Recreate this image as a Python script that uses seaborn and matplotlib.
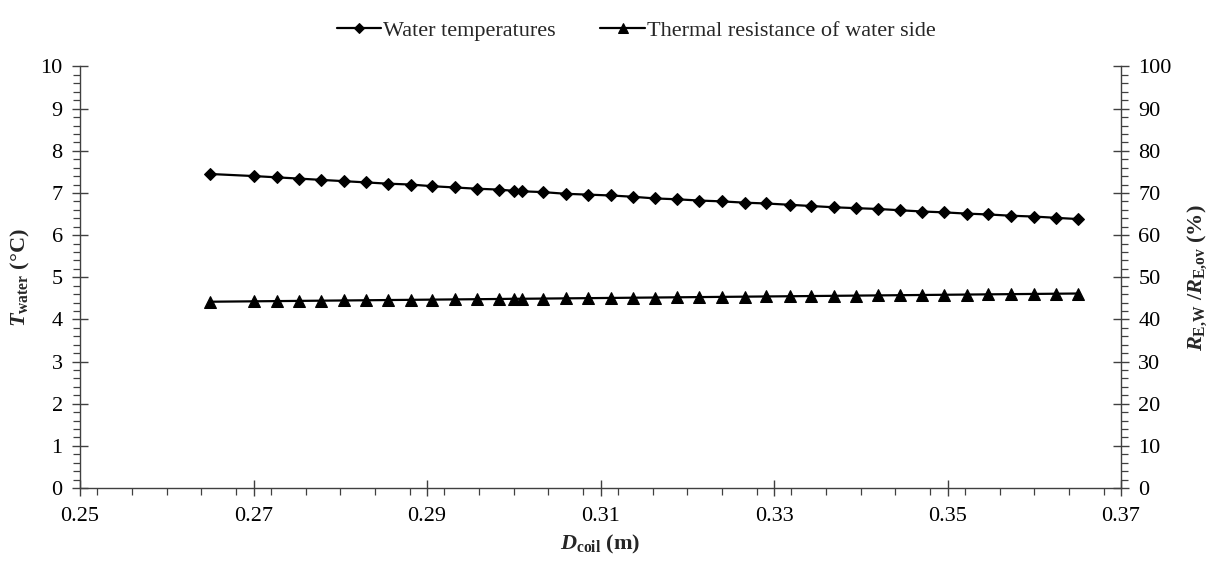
import matplotlib
matplotlib.use("Agg")
import matplotlib.pyplot as plt
import seaborn as sns
import numpy as np
from matplotlib.ticker import MultipleLocator, FormatStrFormatter

# ---- data ----
d_coil = [0.2650, 0.2701, 0.2727, 0.2753, 0.2778, 0.2804, 0.2830, 0.2855, 0.2881, 0.2906,
          0.2932, 0.2958, 0.2983, 0.3000, 0.3009, 0.3034, 0.3060, 0.3086, 0.3112, 0.3137,
          0.3163, 0.3188, 0.3214, 0.3240, 0.3266, 0.3291, 0.3318, 0.3343, 0.3369, 0.3394,
          0.3420, 0.3445, 0.3471, 0.3496, 0.3522, 0.3547, 0.3573, 0.3600, 0.3625, 0.3651]
t_water = [7.45, 7.40, 7.37, 7.34, 7.31, 7.28, 7.25, 7.22, 7.20, 7.16,
           7.13, 7.10, 7.08, 7.05, 7.04, 7.02, 6.98, 6.96, 6.94, 6.91,
           6.87, 6.85, 6.82, 6.80, 6.77, 6.75, 6.72, 6.69, 6.66, 6.64,
           6.62, 6.59, 6.56, 6.54, 6.51, 6.49, 6.46, 6.44, 6.41, 6.38]
r_ratio = [44.2, 44.3, 44.35, 44.4, 44.45, 44.5, 44.55, 44.6, 44.65, 44.7,
           44.75, 44.8, 44.85, 44.9, 44.9, 44.95, 45.0, 45.05, 45.1, 45.15,
           45.2, 45.25, 45.3, 45.35, 45.4, 45.45, 45.5, 45.55, 45.6, 45.65,
           45.7, 45.75, 45.8, 45.85, 45.9, 45.95, 46.0, 46.05, 46.1, 46.15]
series_names = ["Water temperatures", "Thermal resistance of water side"]
x_ticks = [0.25, 0.27, 0.29, 0.31, 0.33, 0.35, 0.37]

sns.set_theme(style="white")
plt.rcParams['font.family'] = ['Liberation Serif', 'DejaVu Serif']
plt.rcParams['mathtext.fontset'] = 'custom'
plt.rcParams['mathtext.rm'] = 'Liberation Serif:bold'
plt.rcParams['mathtext.it'] = 'Liberation Serif:italic:bold'
plt.rcParams['mathtext.bf'] = 'Liberation Serif:bold'

FS = 16
axis_col = '#404040'
fig = plt.figure(figsize=(12.14, 5.61), dpi=100)
ax = fig.add_axes([0.0659, 0.130, 0.8575, 0.7515])
ax2 = ax.twinx()

sns.lineplot(x=d_coil, y=t_water, ax=ax, color='black', marker='D', markersize=6,
             markeredgecolor='black', linewidth=1.6, label=series_names[0], legend=False)
sns.lineplot(x=d_coil, y=r_ratio, ax=ax2, color='black', marker='^', markersize=9,
             markeredgecolor='black', linewidth=1.6, label=series_names[1], legend=False)

ax.set_xlim(0.25, 0.37)
ax.set_ylim(0, 10)
ax2.set_ylim(0, 100)
ax.set_xticks(x_ticks)
ax.xaxis.set_major_formatter(FormatStrFormatter('%.2f'))
ax.xaxis.set_minor_locator(MultipleLocator(0.004))
ax.yaxis.set_major_locator(MultipleLocator(1))
ax.yaxis.set_minor_locator(MultipleLocator(0.2))
ax2.yaxis.set_major_locator(MultipleLocator(10))
ax2.yaxis.set_minor_locator(MultipleLocator(2))

for a in (ax, ax2):
    a.grid(False)
    for s in a.spines.values():
        s.set_color(axis_col)
        s.set_linewidth(1.0)
    a.spines['top'].set_visible(False)

ax.spines['right'].set_visible(False)
ax2.spines['left'].set_visible(False)
ax2.spines['bottom'].set_visible(False)

ax.tick_params(axis='both', which='major', direction='inout', length=11, width=1.0,
               color=axis_col, labelsize=FS, labelcolor='black')
ax.tick_params(axis='both', which='minor', direction='out', length=5, width=0.9,
               color=axis_col)
ax.tick_params(axis='x', which='both', bottom=True, top=False)
ax.tick_params(axis='y', which='both', left=True, right=False)
ax.tick_params(axis='x', which='major', pad=8)
ax.tick_params(axis='y', which='major', pad=7)
ax2.tick_params(axis='y', which='major', direction='inout', length=11, width=1.0,
                color=axis_col, labelsize=FS, labelcolor='black', pad=7, right=True)
ax2.tick_params(axis='y', which='minor', direction='out', length=5, width=0.9,
                color=axis_col, right=True)

ax.set_xlabel(r'$D_{\mathrm{coil}}$ (m)', fontsize=FS, fontweight='bold', labelpad=5)
ax.set_ylabel(r'$T_{\mathrm{water}}$ (°C)', fontsize=FS, fontweight='bold', labelpad=6)
ax2.set_ylabel(r'$R_{\mathrm{E,\!W}}$ /$R_{\mathrm{E,\!ov}}$ (%)', fontsize=FS,
               fontweight='bold', labelpad=10)

h1, l1 = ax.get_legend_handles_labels()
h2, l2 = ax2.get_legend_handles_labels()
leg = fig.legend(h1 + h2, l1 + l2, loc='upper center', bbox_to_anchor=(0.524, 1.0),
                 ncol=2, frameon=False, fontsize=FS, handlelength=2.0,
                 handletextpad=0.1, columnspacing=2.0, markerscale=0.8)

fig.savefig('out.png', dpi=100)
